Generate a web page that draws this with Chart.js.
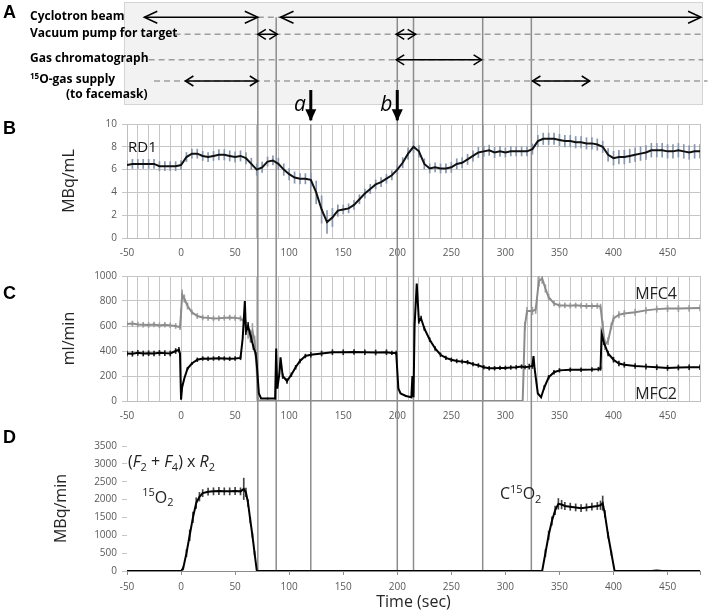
<!DOCTYPE html>
<html>
<head>
<meta charset="utf-8">
<script src="https://cdn.jsdelivr.net/npm/chart.js@4.4.1/dist/chart.umd.min.js"></script>
<style>
  body { margin: 0; background: #fff; width: 709px; height: 612px; position: relative; overflow: hidden; }
  canvas { position: absolute; left: 0; }
</style>
</head>
<body>
<canvas id="panelA" width="709" height="125" style="top:0px"></canvas>
<canvas id="panelB" width="709" height="150" style="top:110px"></canvas>
<canvas id="panelC" width="709" height="160" style="top:260px"></canvas>
<canvas id="panelD" width="709" height="192" style="top:420px"></canvas>
<script>
// ---- panel A: schedule (times in sec)
const rowPos = [0, 0.8, 2, 3];
const rowLabels = ['Cyclotron beam', 'Vacuum pump for target', 'Gas chromatograph', 'O-gas supply'];
const arrowRow = [0, 0, 1, 1, 2, 3, 3];
const arrowFrom = [-34, 92, 71, 199, 199, 4, 325];
const arrowTo = [71, 481, 89, 217, 278, 71, 378];
const dashRow = [0, 1, 2, 3];
const dashFrom = [71, -6, -30, -25];
const dashTo = [92, 483, 483, 487];
const eventTimes = [71, 88, 120, 200, 215, 279, 324];
const markTimes = [120, 200];
const markNames = ['a', 'b'];

// ---- panel B: RD1 (MBq/mL), every 5 s from -50
const rd1Mean = [
  6.4, 6.5, 6.5, 6.5, 6.5, 6.5, 6.3, 6.3, 6.3, 6.3,
  6.4, 7.1, 7.4, 7.4, 7.2, 7.1, 7.2, 7.3, 7.3, 7.2,
  7.1, 7.2, 7.0, 6.5, 6.0, 6.2, 6.7, 6.8, 6.5, 6.0,
  5.6, 5.3, 5.2, 5.2, 5.1, 4.0, 2.5, 1.4, 1.8, 2.4,
  2.5, 2.6, 2.9, 3.4, 3.9, 4.3, 4.7, 4.9, 5.2, 5.5,
  6.0, 6.6, 7.4, 8.0, 7.6, 6.5, 6.1, 6.2, 6.1, 6.1,
  6.2, 6.5, 6.6, 6.9, 7.2, 7.5, 7.6, 7.7, 7.5, 7.6,
  7.5, 7.6, 7.6, 7.6, 7.6, 7.8, 8.5, 8.7, 8.7, 8.7,
  8.6, 8.5, 8.5, 8.4, 8.4, 8.3, 8.3, 8.2, 8.0, 7.3,
  7.0, 7.1, 7.1, 7.2, 7.3, 7.4, 7.5, 7.7, 7.7, 7.7,
  7.6, 7.6, 7.7, 7.6, 7.5, 7.6, 7.6
];
const rd1Err = [
  0.4, 0.4, 0.4, 0.4, 0.4, 0.4, 0.4, 0.4, 0.4, 0.4,
  0.4, 0.4, 0.4, 0.4, 0.4, 0.4, 0.4, 0.45, 0.45, 0.45,
  0.45, 0.45, 0.5, 0.5, 0.5, 0.45, 0.4, 0.4, 0.5, 0.5,
  0.5, 0.5, 0.45, 0.45, 0.6, 1.0, 1.2, 1.0, 0.8, 0.5,
  0.4, 0.4, 0.4, 0.4, 0.4, 0.4, 0.4, 0.4, 0.4, 0.4,
  0.4, 0.45, 0.5, 0.5, 0.5, 0.45, 0.4, 0.4, 0.4, 0.4,
  0.45, 0.45, 0.45, 0.45, 0.45, 0.45, 0.45, 0.45, 0.45, 0.45,
  0.4, 0.4, 0.4, 0.4, 0.4, 0.45, 0.5, 0.5, 0.5, 0.5,
  0.5, 0.5, 0.5, 0.5, 0.5, 0.5, 0.5, 0.5, 0.5, 0.55,
  0.6, 0.6, 0.6, 0.6, 0.6, 0.6, 0.6, 0.6, 0.6, 0.6,
  0.6, 0.6, 0.6, 0.6, 0.6, 0.6, 0.6
];
const rd1Time = rd1Mean.map((v, i) => -50 + 5 * i);

// ---- panel C: flow (ml/min)
const mfc4Time = [-50, -45, -40, -35, -30, -25, -20, -15, -10, -5, -1, 0, 1, 3, 6,
  10, 15, 20, 25, 30, 35, 40, 45, 50, 55, 58, 60, 62, 64, 66, 68, 70, 71, 72, 75,
  316, 318, 320, 325, 328, 331, 334, 337, 340, 345, 350, 355, 360, 365, 370, 375, 380, 385,
  388, 390, 392, 395, 398, 400, 405, 410, 420, 430, 440, 450, 460, 470, 480];
const mfc4Val = [615, 620, 612, 610, 608, 612, 605, 610, 605, 600, 590, 700, 850, 820, 760,
  710, 680, 668, 665, 660, 662, 665, 668, 665, 660, 640, 600, 560, 520, 560, 480, 250, 20, 0, 0,
  0, 600, 720, 720, 730, 960, 980, 900, 830, 780, 765, 765, 762, 765, 762, 760, 760, 760,
  755, 600, 450, 480, 600, 660, 690, 700, 710, 725, 735, 740, 740, 742, 745];
const mfc4Err = [20, 20, 20, 20, 20, 20, 20, 20, 20, 20, 20, 40, 40, 30, 25,
  20, 20, 20, 20, 20, 20, 20, 20, 20, 20, 30, 40, 60, 50, 60, 40, 0, 0, 0, 0,
  0, 30, 30, 30, 30, 40, 40, 30, 25, 20, 20, 20, 20, 20, 20, 20, 20, 20,
  20, 40, 40, 30, 25, 25, 25, 25, 25, 25, 25, 25, 25, 25, 25];

const mfc2Time = [-50, -45, -40, -35, -30, -25, -20, -15, -10, -5,
  -2, -1, 0, 1, 3, 6, 10, 15, 20, 25,
  30, 35, 40, 45, 50, 55, 57, 59, 60, 62,
  65, 67, 69, 70, 72, 74, 80, 87, 88, 89,
  91, 92, 94, 98, 102, 106, 110, 115, 120, 130,
  140, 150, 160, 170, 180, 190, 195, 199, 201, 203,
  208, 213, 214, 215, 216, 218, 220, 222, 225, 230,
  235, 240, 245, 250, 255, 260, 265, 270, 275, 280,
  285, 290, 295, 300, 305, 310, 315, 318, 322, 325,
  326, 327, 330, 333, 336, 340, 345, 350, 360, 370,
  380, 386, 388, 389, 391, 395, 400, 405, 410, 420,
  430, 440, 450, 460, 470, 480];
const mfc2Val = [380, 378, 385, 380, 382, 380, 385, 383, 380, 400,
  410, 380, 10, 110, 180, 260, 300, 330, 340, 338,
  340, 342, 340, 338, 340, 345, 500, 800, 560, 600,
  500, 430, 380, 300, 60, 20, 20, 20, 420, 100,
  220, 350, 200, 160, 210, 270, 320, 360, 370, 380,
  390, 390, 392, 390, 388, 390, 385, 385, 100, 60,
  40, 30, 200, 30, 600, 940, 640, 660, 580, 490,
  420, 370, 345, 330, 320, 315, 310, 295, 285, 270,
  262, 262, 265, 265, 268, 270, 275, 270, 275, 280,
  360, 260, 60, 30, 110, 190, 230, 245, 250, 250,
  252, 255, 260, 540, 470, 380, 330, 300, 290, 280,
  275, 270, 265, 268, 270, 270];
const mfc2Err = [20, 20, 20, 20, 20, 20, 20, 20, 20, 20,
  20, 0, 0, 0, 0, 10, 10, 15, 15, 15,
  15, 15, 15, 15, 15, 15, 0, 0, 30, 30,
  30, 20, 10, 0, 0, 0, 5, 5, 0, 0,
  0, 0, 20, 20, 15, 15, 15, 15, 20, 20,
  20, 20, 20, 20, 20, 20, 15, 15, 0, 0,
  5, 5, 0, 0, 0, 0, 20, 20, 15, 15,
  15, 15, 15, 15, 15, 15, 15, 15, 15, 15,
  15, 15, 15, 15, 15, 15, 15, 15, 20, 20,
  0, 0, 0, 0, 15, 15, 15, 15, 15, 15,
  15, 15, 15, 0, 20, 20, 20, 20, 20, 20,
  20, 20, 20, 20, 20, 20];

// ---- panel D: delivered activity (MBq/min)
const doseTime = [-50, 0, 2, 5, 8, 11, 14, 17, 20, 25,
  30, 35, 40, 45, 50, 55, 58, 60, 62, 64,
  66, 68, 70, 71, 334, 337, 340, 343, 346, 349,
  352, 355, 360, 365, 370, 375, 380, 385, 388, 390,
  392, 395, 398, 401, 420, 435, 440, 445, 480];
const doseVal = [0, 0, 80, 500, 1000, 1500, 1900, 2080, 2180, 2220,
  2230, 2240, 2230, 2230, 2240, 2230, 2300, 2200, 1900, 1430,
  1000, 500, 20, 0, 0, 500, 1000, 1400, 1700, 1880,
  1860, 1820, 1800, 1780, 1760, 1780, 1800, 1820, 1840, 1900,
  1600, 1000, 500, 0, 0, 0, 15, 0, 0];
const doseErr = [0, 0, 50, 100, 150, 150, 150, 120, 100, 100,
  100, 100, 100, 100, 100, 100, 300, 120, 100, 80,
  60, 50, 0, 0, 0, 100, 120, 120, 120, 150,
  120, 100, 100, 100, 100, 100, 100, 100, 120, 200,
  100, 80, 60, 0, 0, 0, 0, 0, 0];

Chart.defaults.font.family = "'Open Sans', sans-serif";
Chart.defaults.color = '#595959';
Chart.defaults.animation = false;
Chart.defaults.events = [];
Chart.defaults.plugins.legend.display = false;
Chart.defaults.plugins.tooltip.enabled = false;

const FONT = "'Open Sans', sans-serif";
const pts = (times, vals) => times.map((t, i) => ({x: t, y: vals[i]}));
const errPts = (times, vals, errs) => times
  .map((t, i) => ({x: t, y: [vals[i] - errs[i], vals[i] + errs[i]]}))
  .filter((p, i) => errs[i] > 0);

function richText(ctx, x, y, runs, size) {
  let cx = x;
  runs.forEach(r => {
    const s = (r.sub || r.sup) ? Math.round(size * 0.68) : size;
    ctx.font = (r.it ? 'italic ' : '') + s + 'px ' + FONT;
    const dy = r.sub ? size * 0.3 : r.sup ? -size * 0.32 : 0;
    ctx.fillText(r.t, cx, y + dy);
    cx += ctx.measureText(r.t).width;
  });
}

function letter(ch, y) {
  return {
    id: 'letter' + ch,
    afterDraw(chart) {
      const ctx = chart.ctx;
      ctx.save();
      ctx.fillStyle = '#000';
      ctx.textBaseline = 'middle';
      ctx.font = "bold 18px 'Liberation Sans', Arial, sans-serif";
      ctx.fillText(ch, 3, y);
      ctx.restore();
    }
  };
}

const eventLines = {
  id: 'eventLines',
  beforeDatasetsDraw(chart, args, opts) {
    const ctx = chart.ctx, xs = chart.scales.x, area = chart.chartArea;
    let top = 0;
    if (opts.from === 'area') top = area.top;
    if (opts.from === 'row') top = chart.scales.y.getPixelForValue(rowPos[0]);
    const bottom = opts.to === 'area' ? area.bottom : chart.height;
    const skip = opts.skip || [];
    ctx.save();
    ctx.strokeStyle = '#8c8c8c';
    ctx.lineWidth = 1.5;
    eventTimes.forEach(t => {
      if (skip.includes(t)) return;
      const x = xs.getPixelForValue(t);
      ctx.beginPath();
      ctx.moveTo(x, top);
      ctx.lineTo(x, bottom);
      ctx.stroke();
    });
    ctx.restore();
  }
};

function timeAxis(h, extra) {
  return Object.assign({
    type: 'linear', min: -50, max: 480, offset: false,
    ticks: {stepSize: 10, autoSkip: false, maxRotation: 0, padding: 9, font: {size: 10},
      callback: v => (v % 50 === 0 && v < 480) ? String(v) : ''},
    grid: {color: '#c6c6c6', drawTicks: false, offset: false},
    border: {color: '#bfbfbf'},
    afterFit: s => { s.height = h; }
  }, extra || {});
}

function valueAxis(min, max, step, title, pad, gridOn) {
  return {
    min: min, max: max,
    ticks: {stepSize: step, padding: 5, font: {size: 10}, callback: v => String(v)},
    grid: {color: '#c6c6c6', tickLength: 5, drawOnChartArea: gridOn},
    border: {color: '#bfbfbf', display: gridOn},
    title: {display: true, text: title, color: '#262626', font: {size: 16}, padding: {top: pad, bottom: 0}},
    afterFit: s => { s.width = 127; }
  };
}

// ---------- A
const aSets = [];
dashRow.forEach((r, i) => aSets.push({
  data: [{x: dashFrom[i], y: rowPos[r]}, {x: dashTo[i], y: rowPos[r]}],
  borderColor: '#9e9e9e', borderWidth: 1.5, borderDash: [6, 4], pointRadius: 0, clip: false, order: 2
}));
arrowRow.forEach((r, i) => aSets.push({
  data: [{x: arrowFrom[i], y: rowPos[r]}, {x: arrowTo[i], y: rowPos[r]}],
  borderColor: '#000', borderWidth: 1.5, pointRadius: 0, clip: false, order: 1,
  head: r === 0 ? [13, 6] : [8, 5]
}));
markTimes.forEach(t => aSets.push({
  data: [{x: t, y: 3.42}, {x: t, y: 4.85}],
  borderColor: '#000', borderWidth: 3, pointRadius: 0, clip: false, order: 0, mark: true
}));

new Chart(document.getElementById('panelA'), {
  type: 'line',
  data: {datasets: aSets},
  options: {
    responsive: false,
    layout: {padding: {left: 127, right: 9, top: 0, bottom: 0}},
    scales: {
      x: {type: 'linear', min: -50, max: 480, display: false},
      y: {type: 'linear', min: -0.815, max: 5.073, reverse: true, display: false}
    },
    plugins: {eventLines: {from: 'row', to: 'canvas', skip: [120]}}
  },
  plugins: [{
    id: 'frameA',
    beforeDraw(chart) {
      const ctx = chart.ctx;
      ctx.save();
      ctx.fillStyle = '#f2f2f2';
      ctx.strokeStyle = '#d4d4d4';
      ctx.fillRect(124.5, 2.5, 578, 102);
      ctx.strokeRect(124.5, 2.5, 578, 102);
      ctx.restore();
    }
  }, eventLines, {
    id: 'headsA',
    afterDatasetsDraw(chart) {
      const ctx = chart.ctx;
      ctx.save();
      ctx.strokeStyle = '#000';
      ctx.fillStyle = '#000';
      chart.data.datasets.forEach((ds, i) => {
        const m = chart.getDatasetMeta(i).data;
        if (ds.head) {
          const [L, H] = ds.head;
          ctx.lineWidth = 1.5;
          [[m[1].x, -1], [m[0].x, 1]].forEach(([x, d]) => {
            const y = m[0].y;
            ctx.beginPath();
            ctx.moveTo(x + d * L, y - H);
            ctx.lineTo(x, y);
            ctx.lineTo(x + d * L, y + H);
            ctx.stroke();
          });
        }
        if (ds.mark) {
          const x = m[1].x, y = m[1].y;
          ctx.beginPath();
          ctx.moveTo(x - 5.5, y - 11);
          ctx.lineTo(x + 5.5, y - 11);
          ctx.lineTo(x, y + 1);
          ctx.closePath();
          ctx.fill();
        }
      });
      // labels
      const ys = chart.scales.y, xs = chart.scales.x;
      ctx.textBaseline = 'middle';
      rowLabels.forEach((s, i) => {
        const y = ys.getPixelForValue(rowPos[i]) - 1;
        let x = 30;
        if (i === 3) {
          ctx.font = 'bold 8px ' + FONT;
          ctx.fillText('15', x, y - 3);
          x += ctx.measureText('15').width;
        }
        ctx.font = 'bold 12px ' + FONT;
        ctx.fillText(s, x, y);
      });
      ctx.fillText('(to facemask)', 66, ys.getPixelForValue(rowPos[3]) + 14);
      ctx.textBaseline = 'alphabetic';
      ctx.textAlign = 'right';
      ctx.font = 'italic 21px ' + FONT;
      markTimes.forEach((t, i) => ctx.fillText(markNames[i], xs.getPixelForValue(t) - 5, ys.getPixelForValue(4.41)));
      ctx.restore();
    }
  }, letter('A', 13)]
});

// ---------- B
new Chart(document.getElementById('panelB'), {
  type: 'line',
  data: {datasets: [
    {data: pts(rd1Time, rd1Mean), borderColor: '#111', borderWidth: 2, pointRadius: 0, order: 0},
    {type: 'bar', data: errPts(rd1Time, rd1Mean, rd1Err), backgroundColor: '#8796ac', barThickness: 1, grouped: false, order: 1}
  ]},
  options: {
    responsive: false,
    layout: {padding: {left: 0, right: 9, top: 14, bottom: 0}},
    scales: {x: timeAxis(22), y: valueAxis(0, 10, 2, 'MBq/mL', 60, true)},
    plugins: {eventLines: {from: 'area', to: 'canvas'}}
  },
  plugins: [eventLines, {
    id: 'notesB',
    afterDraw(chart) {
      const ctx = chart.ctx, xs = chart.scales.x, ys = chart.scales.y;
      ctx.save();
      ctx.fillStyle = '#111';
      ctx.textBaseline = 'middle';
      richText(ctx, xs.getPixelForValue(-49), ys.getPixelForValue(7.9), [{t: 'RD1'}], 15);
      ctx.restore();
    }
  }, letter('B', 19)]
});

// ---------- C
new Chart(document.getElementById('panelC'), {
  type: 'line',
  data: {datasets: [
    {data: pts(mfc2Time, mfc2Val), borderColor: '#000', borderWidth: 2, pointRadius: 0, order: 0},
    {data: pts(mfc4Time, mfc4Val), borderColor: '#8c8c8c', borderWidth: 2, pointRadius: 0, order: 0},
    {type: 'bar', data: errPts(mfc2Time, mfc2Val, mfc2Err), backgroundColor: '#222', barThickness: 1, grouped: false, order: 1},
    {type: 'bar', data: errPts(mfc4Time, mfc4Val, mfc4Err), backgroundColor: '#a0a0a0', barThickness: 1, grouped: false, order: 2}
  ]},
  options: {
    responsive: false,
    layout: {padding: {left: 0, right: 9, top: 16, bottom: 0}},
    scales: {x: timeAxis(19), y: valueAxis(0, 1000, 200, 'ml/min', 60, true)},
    plugins: {eventLines: {from: 'canvas', to: 'canvas'}}
  },
  plugins: [eventLines, {
    id: 'notesC',
    afterDraw(chart) {
      const ctx = chart.ctx, xs = chart.scales.x, ys = chart.scales.y;
      ctx.save();
      ctx.fillStyle = '#222';
      ctx.textBaseline = 'middle';
      richText(ctx, xs.getPixelForValue(420), ys.getPixelForValue(850), [{t: 'MFC4'}], 16);
      richText(ctx, xs.getPixelForValue(420), ys.getPixelForValue(55), [{t: 'MFC2'}], 16);
      ctx.restore();
    }
  }, letter('C', 34)]
});

// ---------- D
new Chart(document.getElementById('panelD'), {
  type: 'line',
  data: {datasets: [
    {data: pts(doseTime, doseVal), borderColor: '#000', borderWidth: 2, pointRadius: 0, order: 0},
    {type: 'bar', data: errPts(doseTime, doseVal, doseErr), backgroundColor: '#444', barThickness: 1, grouped: false, order: 1}
  ]},
  options: {
    responsive: false,
    layout: {padding: {left: 0, right: 9, top: 26, bottom: 0}},
    scales: {
      x: timeAxis(41, {
        ticks: {stepSize: 50, autoSkip: false, maxRotation: 0, padding: 6, font: {size: 10},
          callback: v => (v % 50 === 0 && v < 480) ? String(v) : ''},
        grid: {color: '#8c8c8c', drawOnChartArea: false, drawTicks: true, tickLength: 4, offset: false},
        border: {color: '#8c8c8c'},
        title: {display: true, text: 'Time (sec)', color: '#262626', font: {size: 16}, padding: {top: 0, bottom: 0}}
      }),
      y: valueAxis(0, 3500, 500, 'MBq/min', 52, false)
    },
    plugins: {eventLines: {from: 'canvas', to: 'area'}}
  },
  plugins: [eventLines, {
    id: 'notesD',
    afterDraw(chart) {
      const ctx = chart.ctx, xs = chart.scales.x, ys = chart.scales.y;
      ctx.save();
      ctx.fillStyle = '#222';
      ctx.textBaseline = 'middle';
      richText(ctx, xs.getPixelForValue(-49), ys.getPixelForValue(3030),
        [{t: '('}, {t: 'F', it: true}, {t: '2', sub: true}, {t: ' + '}, {t: 'F', it: true}, {t: '4', sub: true},
         {t: ') x '}, {t: 'R', it: true}, {t: '2', sub: true}], 16);
      richText(ctx, xs.getPixelForValue(-36), ys.getPixelForValue(2040),
        [{t: '15', sup: true}, {t: 'O'}, {t: '2', sub: true}], 16);
      richText(ctx, xs.getPixelForValue(295), ys.getPixelForValue(2130),
        [{t: 'C'}, {t: '15', sup: true}, {t: 'O'}, {t: '2', sub: true}], 16);
      ctx.restore();
    }
  }, letter('D', 18)]
});
</script>
</body>
</html>
